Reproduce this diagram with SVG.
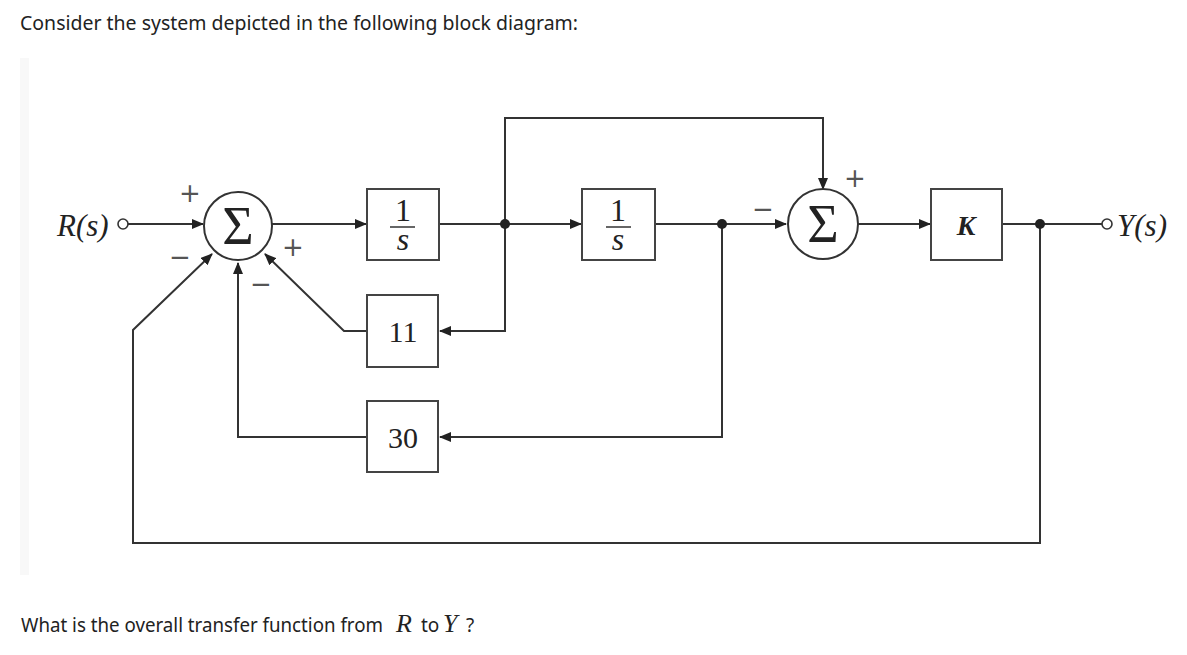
<svg xmlns="http://www.w3.org/2000/svg" width="1187" height="655" viewBox="0 0 1187 655">
<defs>
<marker id="arr" markerWidth="12" markerHeight="10" refX="11" refY="5" orient="auto" markerUnits="userSpaceOnUse">
<path d="M0,0 L12,5 L0,10 Z" fill="#222"/>
</marker>
</defs>
<style>
.ln{fill:none;stroke:#333;stroke-width:2}
.bx{fill:#fff;stroke:#444;stroke-width:2}
.sm{fill:#fff;stroke:#333;stroke-width:2}
.dot{fill:#222}
.oc{fill:#fff;stroke:#333;stroke-width:1.6}
.ser{font-family:"Liberation Serif","Times New Roman",serif;fill:#222}
.it{font-style:italic}
.sgn{font-family:"DejaVu Sans",sans-serif;font-size:26px;fill:#555}
.txt{font-family:"Noto Sans","Open Sans",sans-serif;font-size:19px;fill:#222}
</style>
<rect width="1187" height="655" fill="#fff"/>
<rect x="20" y="58" width="9" height="517" fill="#f8f8f8"/>
<text class="txt" x="20" y="30" textLength="558" lengthAdjust="spacingAndGlyphs">Consider the system depicted in the following block diagram:</text>

<g id="connectors">
<line class="ln" x1="128" y1="224" x2="203" y2="224" marker-end="url(#arr)"/>
<line class="ln" x1="272" y1="224" x2="366" y2="224" marker-end="url(#arr)"/>
<line class="ln" x1="439" y1="224" x2="581" y2="224" marker-end="url(#arr)"/>
<line class="ln" x1="655" y1="224" x2="786" y2="224" marker-end="url(#arr)"/>
<line class="ln" x1="858" y1="224" x2="930" y2="224" marker-end="url(#arr)"/>
<line class="ln" x1="1002" y1="224" x2="1102" y2="224"/>
<polyline class="ln" points="505,224 505,118 823,118 823,189" marker-end="url(#arr)"/>
<polyline class="ln" points="505,224 505,331 440,331" marker-end="url(#arr)"/>
<polyline class="ln" points="722,224 722,437 440,437" marker-end="url(#arr)"/>
<polyline class="ln" points="367,331 344,331 265,254" marker-end="url(#arr)"/>
<polyline class="ln" points="367,437 238,437 238,263" marker-end="url(#arr)"/>
<polyline class="ln" points="1040,224 1040,543 133,543 133,330 212,254" marker-end="url(#arr)"/>
<circle class="dot" cx="505" cy="224" r="5"/>
<circle class="dot" cx="722" cy="224" r="5"/>
<circle class="dot" cx="1040" cy="224" r="5"/>
</g>

<g id="R">
<circle class="oc" cx="123" cy="224" r="5"/>
<text class="ser it" x="57" y="236" font-size="31">R(s)</text>
</g>
<g id="Y">
<circle class="oc" cx="1107" cy="224" r="5"/>
<text class="ser it" x="1117" y="236" font-size="31">Y(s)</text>
</g>

<g id="sum1">
<circle class="sm" cx="238" cy="226" r="34"/>
<text class="ser" x="238" y="244" font-size="54" text-anchor="middle">Σ</text>
<text class="sgn" x="190" y="202" text-anchor="middle">+</text>
<text class="sgn" x="180" y="266" text-anchor="middle">−</text>
<text class="sgn" x="293" y="256" text-anchor="middle">+</text>
<text class="sgn" x="261" y="293" text-anchor="middle">−</text>
</g>

<g id="int1">
<rect class="bx" x="367" y="189" width="72" height="71"/>
<text class="ser" x="403" y="221" font-size="32" text-anchor="middle">1</text>
<line x1="390" y1="227" x2="415" y2="227" stroke="#333" stroke-width="1.5"/>
<text class="ser it" x="403" y="250" font-size="32" text-anchor="middle">s</text>
</g>

<g id="int2">
<rect class="bx" x="582" y="189" width="73" height="71"/>
<text class="ser" x="618" y="221" font-size="32" text-anchor="middle">1</text>
<line x1="606" y1="227" x2="631" y2="227" stroke="#333" stroke-width="1.5"/>
<text class="ser it" x="618" y="250" font-size="32" text-anchor="middle">s</text>
</g>

<g id="sum2">
<circle class="sm" cx="823" cy="224" r="35"/>
<text class="ser" x="823" y="242" font-size="54" text-anchor="middle">Σ</text>
<text class="sgn" x="763" y="218" text-anchor="middle">−</text>
<text class="sgn" x="855" y="187" text-anchor="middle">+</text>
</g>

<g id="K">
<rect class="bx" x="931" y="189" width="71" height="71"/>
<text class="ser it" x="966" y="235" font-size="28" font-weight="bold" text-anchor="middle">K</text>
</g>

<g id="g11">
<rect class="bx" x="367" y="295" width="71" height="72"/>
<text class="ser" x="403" y="342" font-size="30" text-anchor="middle">11</text>
</g>

<g id="g30">
<rect class="bx" x="367" y="401" width="71" height="71"/>
<text class="ser" x="403" y="448" font-size="30" text-anchor="middle">30</text>
</g>

<text class="txt" x="21" y="632" textLength="362" lengthAdjust="spacingAndGlyphs">What is the overall transfer function from</text>
<text class="ser it" x="396" y="632" font-size="26">R</text>
<text class="txt" x="421" y="632">to</text>
<text class="ser it" x="443" y="632" font-size="26">Y</text>
<text class="txt" x="466" y="632">?</text>
</svg>
